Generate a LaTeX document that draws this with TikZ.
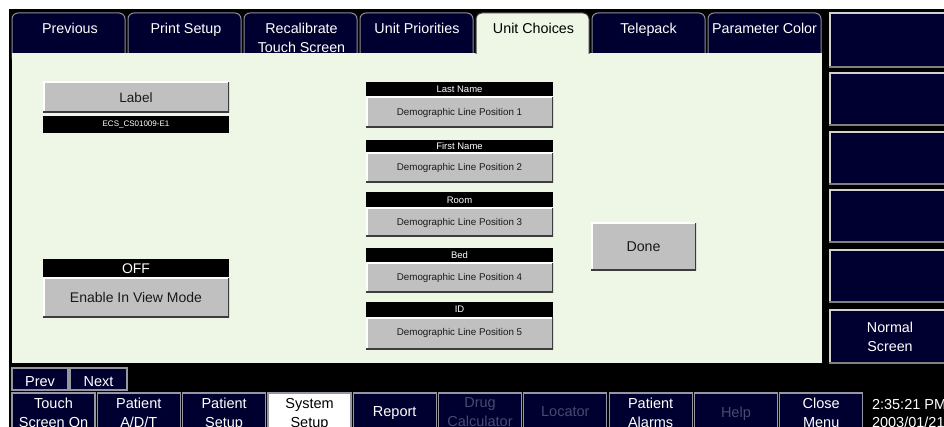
\documentclass[tikz,border=0pt]{standalone}
\usepackage{fontspec}
\setmainfont{Liberation Sans}
\usetikzlibrary{calc}
\definecolor{navy}{RGB}{0,0,48}
\definecolor{panelgreen}{RGB}{238,247,230}
\definecolor{btngray}{RGB}{192,192,192}
\definecolor{bevdark}{RGB}{60,60,60}
\definecolor{dimtext}{RGB}{72,74,112}
\definecolor{tabedge}{RGB}{140,140,150}
\definecolor{botedge}{RGB}{150,150,160}
\newcommand\fsz[2]{\fontsize{#1}{#2}\selectfont}
\begin{document}
\begin{tikzpicture}[x=1pt,y=-1pt,
  every node/.style={inner sep=0pt, outer sep=0pt},
  bevel/.style 2 args={path picture={
    \draw[#1, line width=3pt] (path picture bounding box.south west) -- (path picture bounding box.north west) -- (path picture bounding box.north east);
    \draw[#2, line width=3pt] (path picture bounding box.north east) -- (path picture bounding box.south east) -- (path picture bounding box.south west);}},
  tab/.style={fill=navy, draw=tabedge, line width=1pt, rounded corners=6pt, anchor=north west, minimum width=113pt, minimum height=50pt},
  acttab/.style={fill=panelgreen, draw=black!75, line width=1pt, rounded corners=6pt, anchor=north west, minimum width=113pt, minimum height=50pt},
  tabtxt/.style={text=white, font=\fsz{14.3}{19.5}, align=center, anchor=north},
  side/.style={fill=navy, anchor=north west, minimum width=125pt, bevel={black!18}{black!50}},
  bot/.style={fill=navy, draw=botedge, line width=1.2pt, anchor=north west, minimum width=83pt, minimum height=45pt},
  bottxt/.style={text=white, font=\fsz{14.5}{19}, align=center, anchor=north},
  gbtn/.style={fill=btngray, bevel={white}{bevdark}, anchor=north west, text=black!90},
  hdr/.style={fill=black, text=white, anchor=north west},
]
\clip (0,0) rectangle (944,427);
\useasboundingbox (0,0) rectangle (944,427);
\fill[white] (0,0) rectangle (944,427);
\fill[black] (9,9) rectangle (944,427);

% tabs
\node[tab] (tab1) at (12,13) {};
\node[tab] (tab2) at (128,13) {};
\node[tab] (tab3) at (244,13) {};
\node[tab] (tab4) at (360,13) {};
\node[tab] (tab6) at (592,13) {};
\node[tab] (tab7) at (708,13) {};

% panel
\node[fill=panelgreen, anchor=north west, minimum width=810pt, minimum height=310pt] (panel) at (12,53) {};

% active tab
\node[acttab] (tab5) at (476,13) {};
\fill[panelgreen] (475,53.6) rectangle (590,66);

\node[tabtxt] (t1) at ($(tab1.north)+(1.5,10)$) {Previous};
\node[tabtxt] (t2) at ($(tab2.north)+(1.5,10)$) {Print Setup};
\node[tabtxt] (t3) at ($(tab3.north)+(1,10)$) {Recalibrate\\Touch Screen};
\node[tabtxt] (t4) at ($(tab4.north)+(0.5,10)$) {Unit Priorities};
\node[tabtxt, text=black] (t5) at ($(tab5.north)+(1,10)$) {Unit Choices};
\node[tabtxt] (t6) at ($(tab6.north)+(0,10)$) {Telepack};
\node[tabtxt] (t7) at ($(tab7.north)+(0,10)$) {Parameter Color};

% right column
\node[side, minimum height=55pt] (s1) at (829,13) {};
\node[side, minimum height=53pt] (s2) at (829,73) {};
\node[side, minimum height=53pt] (s3) at (829,132) {};
\node[side, minimum height=53pt] (s4) at (829,190) {};
\node[side, minimum height=53pt] (s5) at (829,250) {};
\node[side, minimum height=54pt] (s6) at (829,309) {};
\node[text=white, font=\fsz{14.3}{19}, align=center, anchor=north] (s6t) at (890,322) {Normal\\Screen};

% left widgets
\node[gbtn, minimum width=186pt, minimum height=31pt, font=\fsz{13.5}{16}] (label) at (43,82) {Label};
\node[hdr, minimum width=186pt, minimum height=17pt, font=\fsz{8}{10}] (ecs) at (43,116) {ECS\_CS01009-E1};
\node[hdr, minimum width=186pt, minimum height=19pt, font=\fsz{14}{16}] (off) at (43,259) {OFF};
\node[gbtn, minimum width=186pt, minimum height=39pt, font=\fsz{14}{16}] (enable) at (43,278) {Enable In View Mode};

% demographic groups
\node[hdr, minimum width=187pt, minimum height=15pt, font=\fsz{9.5}{11}] (h1) at (366,82) {Last Name};
\node[gbtn, minimum width=187pt, minimum height=31pt, font=\fsz{9.8}{11}] (d1) at (366,97) {Demographic Line Position 1};
\node[hdr, minimum width=187pt, minimum height=13pt, font=\fsz{9.5}{11}] (h2) at (366,140) {First Name};
\node[gbtn, minimum width=187pt, minimum height=30pt, font=\fsz{9.8}{11}] (d2) at (366,153) {Demographic Line Position 2};
\node[hdr, minimum width=187pt, minimum height=16pt, font=\fsz{9.5}{11}] (h3) at (366,192) {Room};
\node[gbtn, minimum width=187pt, minimum height=29pt, font=\fsz{9.8}{11}] (d3) at (366,208) {Demographic Line Position 3};
\node[hdr, minimum width=187pt, minimum height=15pt, font=\fsz{9.5}{11}] (h4) at (366,248) {Bed};
\node[gbtn, minimum width=187pt, minimum height=30pt, font=\fsz{9.8}{11}] (d4) at (366,263) {Demographic Line Position 4};
\node[hdr, minimum width=187pt, minimum height=15pt, font=\fsz{9.5}{11}] (h5) at (366,302) {ID};
\node[gbtn, minimum width=187pt, minimum height=32pt, font=\fsz{9.8}{11}] (d5) at (366,317) {Demographic Line Position 5};

% done
\node[gbtn, minimum width=105pt, minimum height=48pt, font=\fsz{14.2}{16}] (done) at (591,223) {Done};

% prev / next
\node[fill=navy, draw=botedge, line width=1.2pt, anchor=north west, minimum width=56pt, minimum height=22pt] (prev) at (12,368) {};
\node[fill=navy, draw=botedge, line width=1.2pt, anchor=north west, minimum width=57pt, minimum height=22pt] (next) at (70,368) {};
\node[bottxt] (prevt) at ($(prev.north)+(0,9)$) {Prev};
\node[bottxt] (nextt) at ($(next.north)+(0,9)$) {Next};

% bottom buttons
\node[bot] (b1) at (12,393) {};
\node[bot] (b2) at (97.3,393) {};
\node[bot] (b3) at (182.6,393) {};
\node[bot, fill=white] (b4) at (268,393) {};
\node[bot] (b5) at (353.2,393) {};
\node[bot] (b6) at (438.5,393) {};
\node[bot] (b7) at (523.8,393) {};
\node[bot] (b8) at (609.1,393) {};
\node[bot] (b9) at (694.4,393) {};
\node[bot] (b10) at (779.7,393) {};

\node[bottxt] (b1t) at ($(b1.north)+(0,5)$) {Touch\\Screen On};
\node[bottxt] (b2t) at ($(b2.north)+(0,5)$) {Patient\\A/D/T};
\node[bottxt] (b3t) at ($(b3.north)+(0,5)$) {Patient\\Setup};
\node[bottxt, text=black] (b4t) at ($(b4.north)+(0,5)$) {System\\Setup};
\node[bottxt] (b5t) at ($(b5.north)+(0,14)$) {Report};
\node[bottxt, text=dimtext] (b6t) at ($(b6.north)+(0,5)$) {Drug\\Calculator};
\node[bottxt, text=dimtext] (b7t) at ($(b7.north)+(0,14)$) {Locator};
\node[bottxt] (b8t) at ($(b8.north)+(0,5)$) {Patient\\Alarms};
\node[bottxt, text=dimtext] (b9t) at ($(b9.north)+(0,14)$) {Help};
\node[bottxt] (b10t) at ($(b10.north)+(0,5)$) {Close\\Menu};

\node[text=white, font=\fsz{14.5}{18.5}, align=left, anchor=north west] (clock) at (872,399) {2:35:21 PM\\2003/01/21};
\end{tikzpicture}
\end{document}
